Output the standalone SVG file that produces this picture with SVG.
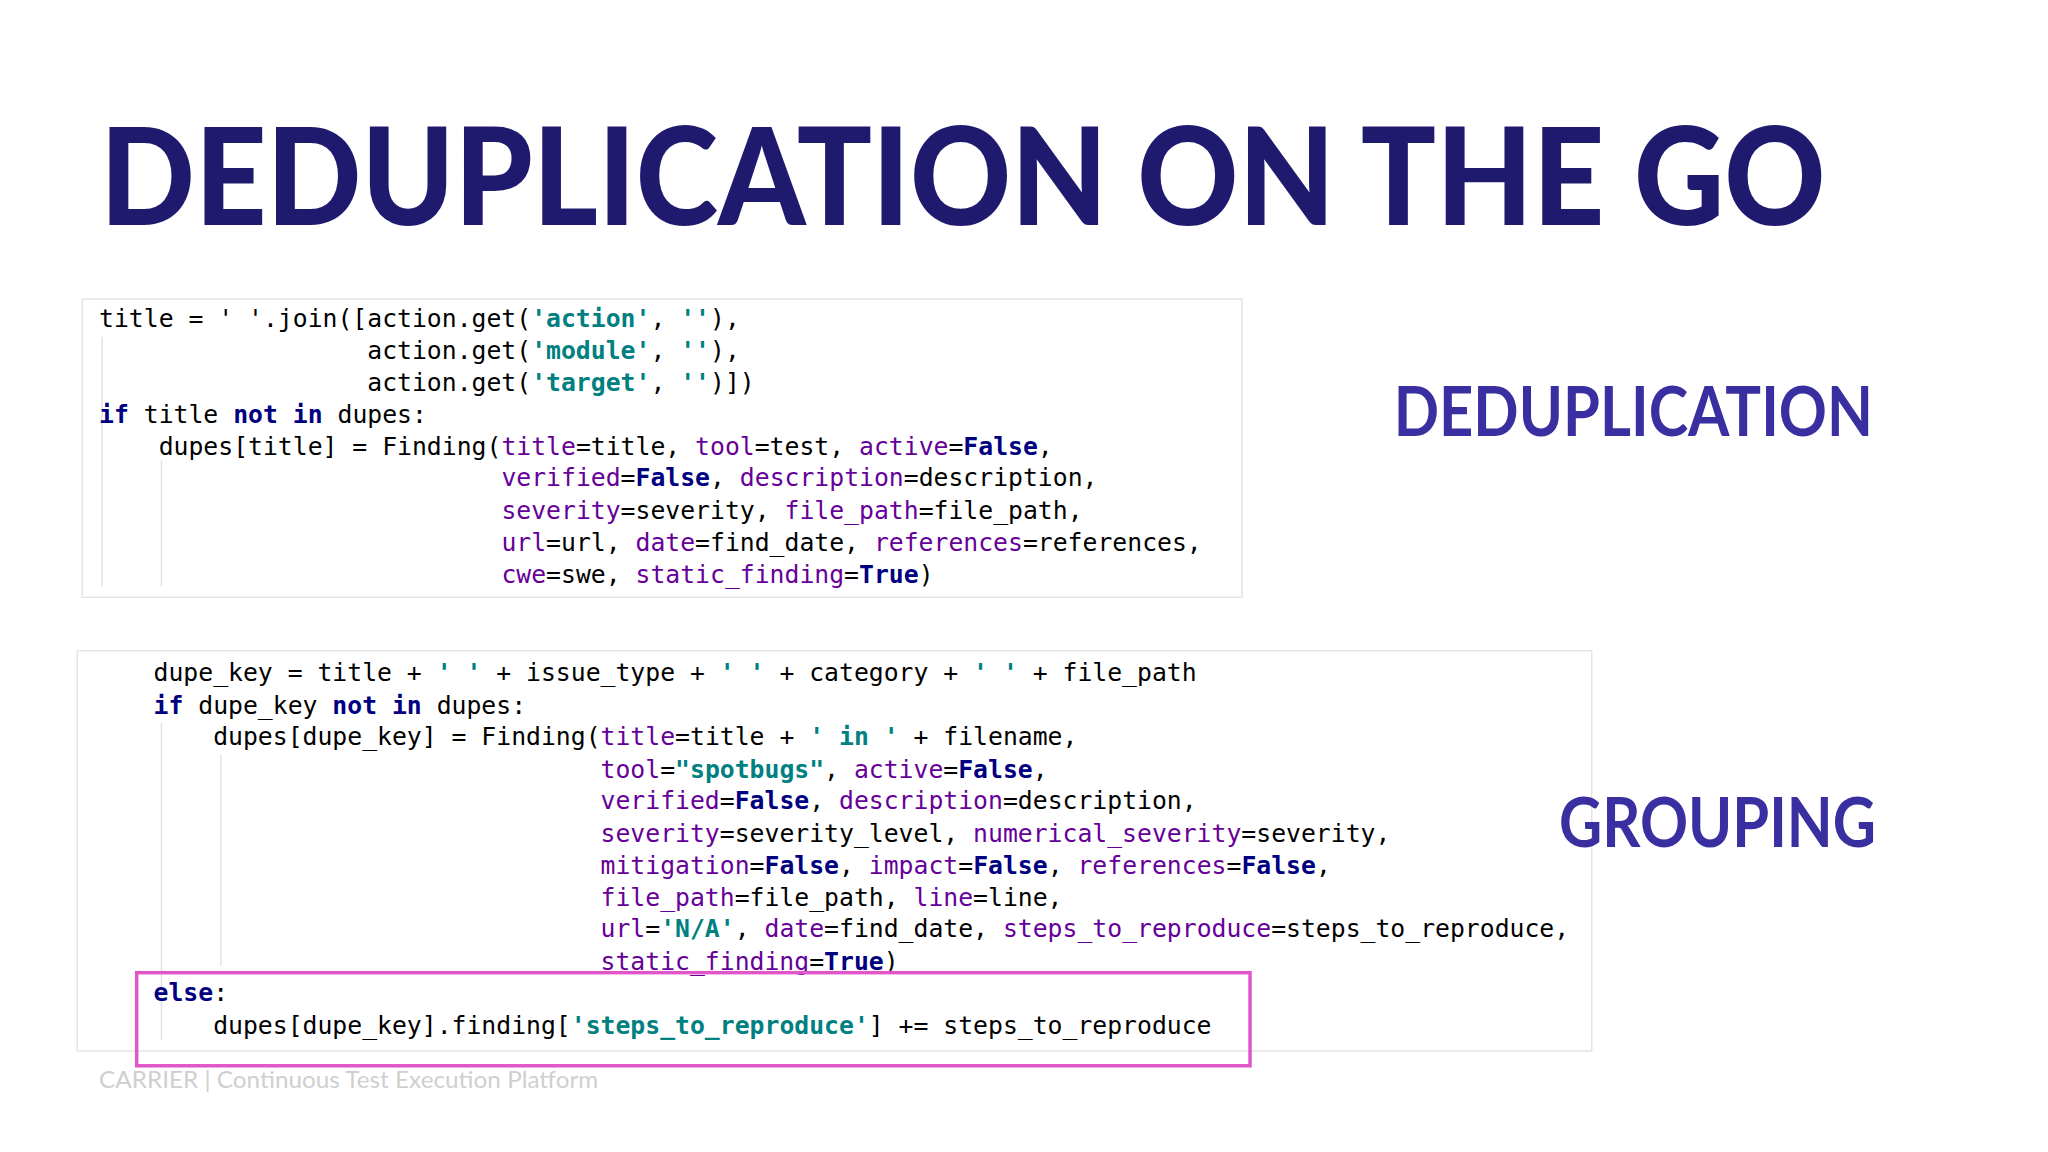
<svg xmlns="http://www.w3.org/2000/svg" width="2048" height="1152" viewBox="0 0 2048 1152">
<style>
.c{font-family:"DejaVu Sans Mono",monospace;font-size:25px;fill:#000}
.k{fill:#000080;font-weight:bold}
.s{fill:#008080;font-weight:bold}
.a{fill:#660099}
.box{fill:#fff;stroke:#e4e4e4;stroke-width:1.5}
.g{stroke:#e2e2e2;stroke-width:1.5}
.h{font-family:Lato,"Open Sans",sans-serif;font-weight:bold;fill:#3a2fa0;font-size:70px}
</style>
<rect width="2048" height="1152" fill="#fff"/>
<g transform="translate(1,0) scale(0.9905)">
<g id="title"><text x="100" y="227" font-family="Lato,'Open Sans',sans-serif" font-weight="900" font-size="136" fill="#1f1a6e" textLength="1742" lengthAdjust="spacingAndGlyphs">DEDUPLICATION ON THE GO</text></g>
<g id="code1">
<rect class="box" x="82" y="302" width="1171" height="301"/>
<line class="g" x1="102" y1="340" x2="102" y2="592"/>
<line class="g" x1="162" y1="465" x2="162" y2="592"/>
<text class="c" xml:space="preserve"><tspan x="99" y="330">title = ' '.join([action.get(<tspan class="s">'action'</tspan>, <tspan class="s">''</tspan>),</tspan><tspan x="99" y="362">                  action.get(<tspan class="s">'module'</tspan>, <tspan class="s">''</tspan>),</tspan><tspan x="99" y="395">                  action.get(<tspan class="s">'target'</tspan>, <tspan class="s">''</tspan>)])</tspan><tspan x="99" y="427"><tspan class="k">if</tspan> title <tspan class="k">not in</tspan> dupes:</tspan><tspan x="99" y="459">    dupes[title] = Finding(<tspan class="a">title</tspan>=title, <tspan class="a">tool</tspan>=test, <tspan class="a">active</tspan>=<tspan class="k">False</tspan>,</tspan><tspan x="99" y="491">                           <tspan class="a">verified</tspan>=<tspan class="k">False</tspan>, <tspan class="a">description</tspan>=description,</tspan><tspan x="99" y="524">                           <tspan class="a">severity</tspan>=severity, <tspan class="a">file_path</tspan>=file_path,</tspan><tspan x="99" y="556">                           <tspan class="a">url</tspan>=url, <tspan class="a">date</tspan>=find_date, <tspan class="a">references</tspan>=references,</tspan><tspan x="99" y="589">                           <tspan class="a">cwe</tspan>=swe, <tspan class="a">static_finding</tspan>=<tspan class="k">True</tspan>)</tspan></text>
</g>
<g id="code2">
<rect class="box" x="77" y="657" width="1529" height="404"/>
<line class="g" x1="162" y1="730" x2="162" y2="1050"/>
<line class="g" x1="222" y1="762" x2="222" y2="975"/>
<text class="c" xml:space="preserve"><tspan x="154" y="688">dupe_key = title + <tspan class="s">' '</tspan> + issue_type + <tspan class="s">' '</tspan> + category + <tspan class="s">' '</tspan> + file_path</tspan><tspan x="154" y="721"><tspan class="k">if</tspan> dupe_key <tspan class="k">not in</tspan> dupes:</tspan><tspan x="154" y="752">    dupes[dupe_key] = Finding(<tspan class="a">title</tspan>=title + <tspan class="s">' in '</tspan> + filename,</tspan><tspan x="154" y="785">                              <tspan class="a">tool</tspan>=<tspan class="s">"spotbugs"</tspan>, <tspan class="a">active</tspan>=<tspan class="k">False</tspan>,</tspan><tspan x="154" y="817">                              <tspan class="a">verified</tspan>=<tspan class="k">False</tspan>, <tspan class="a">description</tspan>=description,</tspan><tspan x="154" y="850">                              <tspan class="a">severity</tspan>=severity_level, <tspan class="a">numerical_severity</tspan>=severity,</tspan><tspan x="154" y="882">                              <tspan class="a">mitigation</tspan>=<tspan class="k">False</tspan>, <tspan class="a">impact</tspan>=<tspan class="k">False</tspan>, <tspan class="a">references</tspan>=<tspan class="k">False</tspan>,</tspan><tspan x="154" y="915">                              <tspan class="a">file_path</tspan>=file_path, <tspan class="a">line</tspan>=line,</tspan><tspan x="154" y="946">                              <tspan class="a">url</tspan>=<tspan class="s">'N/A'</tspan>, <tspan class="a">date</tspan>=find_date, <tspan class="a">steps_to_reproduce</tspan>=steps_to_reproduce,</tspan><tspan x="154" y="979">                              <tspan class="a">static_finding</tspan>=<tspan class="k">True</tspan>)</tspan><tspan x="154" y="1011"><tspan class="k">else</tspan>:</tspan><tspan x="154" y="1044">    dupes[dupe_key].finding[<tspan class="s">'steps_to_reproduce'</tspan>] += steps_to_reproduce</tspan></text>
<rect x="137" y="982" width="1124" height="94" fill="none" stroke="#e055c8" stroke-width="3.5"/>
</g>
<g id="labels">
<text class="h" x="1406" y="440" textLength="484" lengthAdjust="spacingAndGlyphs">DEDUPLICATION</text>
<text class="h" x="1573" y="855" textLength="320" lengthAdjust="spacingAndGlyphs">GROUPING</text>
</g>
<g id="footer"><text x="99" y="1098" font-family="Lato,'Open Sans',sans-serif" font-size="23" fill="#cfcfcf" textLength="504" lengthAdjust="spacingAndGlyphs">CARRIER | Continuous Test Execution Platform</text></g>
</g>
</svg>
